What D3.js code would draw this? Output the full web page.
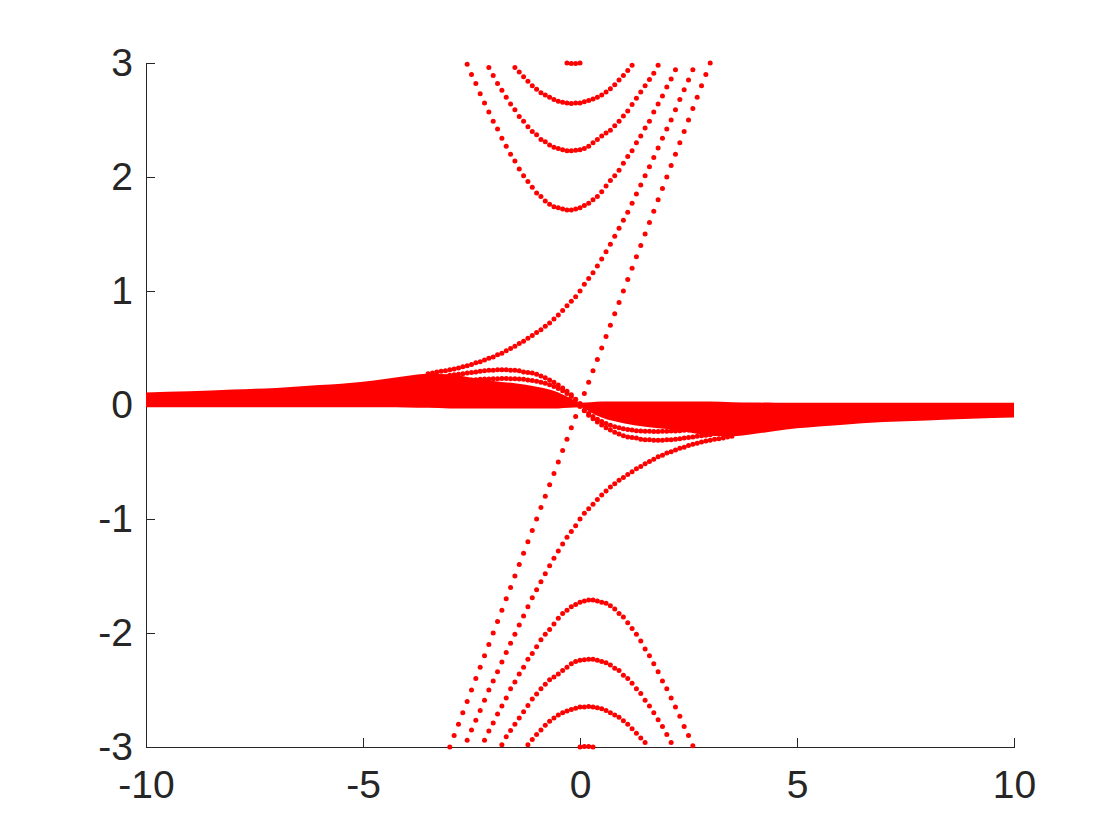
<!DOCTYPE html>
<meta charset="utf-8">
<style>
    body {
        margin: 0;
        background: #fff;
    }

    svg {
        font-family: "Liberation Sans", Arial, sans-serif;
    }

    .axis path,
    .axis line {
        fill: none;
        stroke: #262626;
        stroke-width: 1;
        shape-rendering: crispEdges;
    }

    .axis text {
        font-size: 39px;
        fill: #262626;
    }
</style>
<body>
<script src="https://cdn.jsdelivr.net/npm/d3@7"></script>
<script>
    // momentum grid step of the spectrum (dots sit on k = x0 + i*kStep)
    const kStep = 0.1;

    const xTicks = [-10, -5, 0, 5, 10];
    const yTicks = [-3, -2, -1, 0, 1, 2, 3];

    // chiral level, k from -3.0 to 3.0
    const chiralStart = -3.0;
    const chiralE = [-3.0, -2.9, -2.8, -2.7, -2.6, -2.5, -2.4, -2.3, -2.2, -2.1,
        -2.0, -1.9, -1.8, -1.7, -1.6, -1.5, -1.4, -1.3, -1.2, -1.1,
        -1.0, -0.9, -0.8, -0.7, -0.6, -0.5, -0.4, -0.3, -0.2, -0.1,
        0.0, 0.1, 0.2, 0.3, 0.4, 0.5, 0.6, 0.7, 0.8, 0.9,
        1.0, 1.1, 1.2, 1.3, 1.4, 1.5, 1.6, 1.7, 1.8, 1.9,
        2.0, 2.1, 2.2, 2.3, 2.4, 2.5, 2.6, 2.7, 2.8, 2.9, 3.0];

    // upper landau levels
    const up1Start = -2.6;
    const up1E = [2.99, 2.90, 2.82, 2.73, 2.65, 2.57, 2.49, 2.42, 2.34, 2.27,
        2.20, 2.14, 2.07, 2.01, 1.96, 1.91, 1.86, 1.83, 1.79, 1.76,
        1.74, 1.73, 1.72, 1.71, 1.71, 1.72, 1.73, 1.75, 1.77, 1.80,
        1.83, 1.87, 1.92, 1.97, 2.01, 2.06, 2.12, 2.18, 2.23, 2.30,
        2.36, 2.43, 2.49, 2.57, 2.64, 2.71, 2.79, 2.86, 2.94];

    const up2Start = -2.1;
    const up2E = [2.96, 2.89, 2.82, 2.76, 2.70, 2.64, 2.59, 2.53, 2.49, 2.44,
        2.40, 2.37, 2.33, 2.31, 2.28, 2.26, 2.25, 2.24, 2.23, 2.23,
        2.235, 2.24, 2.25, 2.27, 2.30, 2.33, 2.36, 2.385, 2.41, 2.45,
        2.49, 2.535, 2.58, 2.635, 2.69, 2.745, 2.80, 2.855, 2.91, 2.98];

    const up3Start = -1.5;
    const up3E = [2.96, 2.92, 2.88, 2.84, 2.80, 2.77, 2.74, 2.72, 2.70, 2.68,
        2.665, 2.655, 2.65, 2.645, 2.65, 2.65, 2.66, 2.67, 2.685, 2.70,
        2.72, 2.745, 2.775, 2.81, 2.85, 2.89, 2.935, 2.98];

    const up4Start = -0.3;
    const up4E = [3.0, 2.995, 2.995, 3.0];

    // branch leaving the flat band and going up
    const upQStart = -3.5;
    const upQE = [0.275, 0.28, 0.29, 0.295, 0.30, 0.31, 0.315, 0.325, 0.335, 0.345,
        0.355, 0.37, 0.38, 0.395, 0.41, 0.42, 0.44, 0.455, 0.475, 0.495,
        0.515, 0.54, 0.56, 0.585, 0.61, 0.635, 0.66, 0.69, 0.72, 0.755,
        0.79, 0.83, 0.87, 0.91, 0.95, 1.00, 1.06, 1.11, 1.16, 1.22,
        1.28, 1.345, 1.41, 1.48, 1.55, 1.62, 1.69, 1.77, 1.85, 1.93,
        2.01, 2.09, 2.17, 2.255, 2.34, 2.42, 2.50, 2.59, 2.68, 2.765,
        2.85, 2.94];

    // humps on top of the flat band (left side)
    const upR1Start = -3.0;
    const upR1E = [0.26, 0.265, 0.27, 0.275, 0.28, 0.285, 0.29, 0.295, 0.30, 0.305,
        0.305, 0.31, 0.31, 0.31, 0.305, 0.305, 0.30, 0.29, 0.285, 0.28,
        0.27, 0.255, 0.24, 0.22, 0.20, 0.175, 0.15, 0.12, 0.09, 0.05, 0.01];

    const upR2Start = -2.6;
    const upR2E = [0.215, 0.22, 0.222, 0.225, 0.227, 0.229, 0.23, 0.231, 0.232, 0.232,
        0.231, 0.23, 0.228, 0.225, 0.22, 0.215, 0.208, 0.2, 0.19, 0.178,
        0.163, 0.145, 0.125, 0.1, 0.075, 0.045, 0.01];

    // lower landau levels
    const lo1Start = -2.2;
    const lo1E = [-2.94, -2.86, -2.79, -2.71, -2.64, -2.57, -2.49, -2.43, -2.36, -2.30,
        -2.23, -2.18, -2.12, -2.06, -2.01, -1.97, -1.92, -1.87, -1.83, -1.80,
        -1.77, -1.75, -1.73, -1.72, -1.71, -1.71, -1.72, -1.73, -1.74, -1.76,
        -1.79, -1.83, -1.86, -1.91, -1.96, -2.01, -2.07, -2.14, -2.20, -2.27,
        -2.34, -2.42, -2.49, -2.57, -2.65, -2.73, -2.82, -2.90, -2.99];

    const lo2Start = -1.8;
    const lo2E = [-2.98, -2.91, -2.855, -2.80, -2.745, -2.69, -2.635, -2.58, -2.535, -2.49,
        -2.45, -2.41, -2.385, -2.36, -2.33, -2.30, -2.27, -2.25, -2.24, -2.235,
        -2.23, -2.23, -2.24, -2.25, -2.26, -2.28, -2.31, -2.33, -2.37, -2.40,
        -2.44, -2.49, -2.53, -2.59, -2.64, -2.70, -2.76, -2.82, -2.89, -2.96];

    const lo3Start = -1.2;
    const lo3E = [-2.98, -2.935, -2.89, -2.85, -2.81, -2.775, -2.745, -2.72, -2.70, -2.685,
        -2.67, -2.66, -2.65, -2.65, -2.645, -2.65, -2.655, -2.665, -2.68, -2.70,
        -2.72, -2.74, -2.77, -2.80, -2.84, -2.88, -2.92, -2.96];

    const lo4Start = 0.0;
    const lo4E = [-3.0, -2.995, -2.995, -3.0];

    const loQStart = -2.6;
    const loQE = [-2.94, -2.85, -2.765, -2.68, -2.59, -2.50, -2.42, -2.34, -2.255, -2.17,
        -2.09, -2.01, -1.93, -1.85, -1.77, -1.69, -1.62, -1.55, -1.48, -1.41,
        -1.345, -1.28, -1.22, -1.16, -1.11, -1.06, -1.00, -0.95, -0.91, -0.87,
        -0.83, -0.79, -0.755, -0.72, -0.69, -0.66, -0.635, -0.61, -0.585, -0.56,
        -0.54, -0.515, -0.495, -0.475, -0.455, -0.44, -0.42, -0.41, -0.395, -0.38,
        -0.37, -0.355, -0.345, -0.335, -0.325, -0.315, -0.31, -0.30, -0.295, -0.29,
        -0.28, -0.275];

    const loR1Start = 0.0;
    const loR1E = [-0.01, -0.05, -0.09, -0.12, -0.15, -0.175, -0.20, -0.22, -0.24, -0.255,
        -0.27, -0.28, -0.285, -0.29, -0.30, -0.305, -0.305, -0.31, -0.31, -0.31,
        -0.305, -0.305, -0.30, -0.295, -0.29, -0.285, -0.28, -0.275, -0.27, -0.265, -0.26];

    const loR2Start = 0.0;
    const loR2E = [-0.01, -0.045, -0.075, -0.1, -0.125, -0.145, -0.163, -0.178, -0.19, -0.2,
        -0.208, -0.215, -0.22, -0.225, -0.228, -0.23, -0.231, -0.232, -0.232, -0.231,
        -0.23, -0.229, -0.227, -0.225, -0.222, -0.22, -0.215];

    // dense flat band around E = 0 (outer envelope)
    const bandK = [-10, -9, -8, -7, -6, -5, -4.5, -4, -3.5, -3, -2.5, -2, -1.5, -1, -0.5, -0.25, 0,
        0.25, 0.5, 1, 1.5, 2, 2.5, 3, 3.5, 4, 4.5, 5, 6, 7, 8, 9, 10];
    const bandTop = [0.11, 0.12, 0.135, 0.15, 0.175, 0.205, 0.228, 0.255, 0.275, 0.27, 0.24, 0.21, 0.19, 0.16, 0.11, 0.065, 0.02,
        0.025, 0.03, 0.03, 0.03, 0.03, 0.03, 0.03, 0.025, 0.022, 0.02, 0.02, 0.02, 0.02, 0.02, 0.02, 0.02];
    const bandBottom = [-0.02, -0.02, -0.02, -0.02, -0.02, -0.02, -0.02, -0.022, -0.025, -0.03, -0.03, -0.03, -0.03, -0.03, -0.03, -0.025, -0.02,
        -0.065, -0.11, -0.16, -0.19, -0.21, -0.24, -0.27, -0.275, -0.255, -0.228, -0.205, -0.175, -0.15, -0.135, -0.12, -0.11];

    const levels = [
        [chiralStart, chiralE],
        [up1Start, up1E], [up2Start, up2E], [up3Start, up3E], [up4Start, up4E],
        [upQStart, upQE], [upR1Start, upR1E], [upR2Start, upR2E],
        [lo1Start, lo1E], [lo2Start, lo2E], [lo3Start, lo3E], [lo4Start, lo4E],
        [loQStart, loQE], [loR1Start, loR1E], [loR2Start, loR2E]
    ];

    const margin = {top: 63, right: 106, bottom: 93, left: 146};
    const width = 1120 - margin.left - margin.right;
    const height = 840 - margin.top - margin.bottom;
    const tickLen = 8.7;

    const svg = d3.select('body')
        .append('svg')
        .attr('width', 1120)
        .attr('height', 840);

    const g = svg.append('g')
        .attr('transform', `translate(${margin.left},${margin.top})`);

    const x = d3.scaleLinear().domain([-10, 10]).range([0, width]);
    const y = d3.scaleLinear().domain([-3, 3]).range([height, 0]);

    // axes (box off, ticks pointing in)
    g.append('g')
        .attr('class', 'x axis')
        .attr('transform', `translate(0,${height})`)
        .call(d3.axisBottom(x)
            .tickValues(xTicks)
            .tickFormat(d => String(d))
            .tickSizeInner(-tickLen)
            .tickSizeOuter(0)
            .tickPadding(23));

    g.append('g')
        .attr('class', 'y axis')
        .call(d3.axisLeft(y)
            .tickValues(yTicks)
            .tickFormat(d => String(d))
            .tickSizeInner(-tickLen)
            .tickSizeOuter(0)
            .tickPadding(13));

    // flat band
    const bandData = bandK.map((k, i) => ({k: k, top: bandTop[i], bot: bandBottom[i]}));
    g.append('path')
        .datum(bandData)
        .attr('class', 'band')
        .attr('fill', 'red')
        .attr('d', d3.area()
            .curve(d3.curveMonotoneX)
            .x(d => x(d.k))
            .y0(d => y(d.bot))
            .y1(d => y(d.top)));

    // dots of every level
    const dots = [];
    levels.forEach(([k0, es]) => {
        es.forEach((e, i) => {
            if (Math.abs(e) <= 3.001) dots.push({k: k0 + i * kStep, e: e});
        });
    });

    g.append('g')
        .attr('class', 'dots')
        .selectAll('circle')
        .data(dots)
        .enter().append('circle')
        .attr('cx', d => x(d.k))
        .attr('cy', d => y(d.e))
        .attr('r', 2.5)
        .style('fill', 'red');
</script>
</body>
